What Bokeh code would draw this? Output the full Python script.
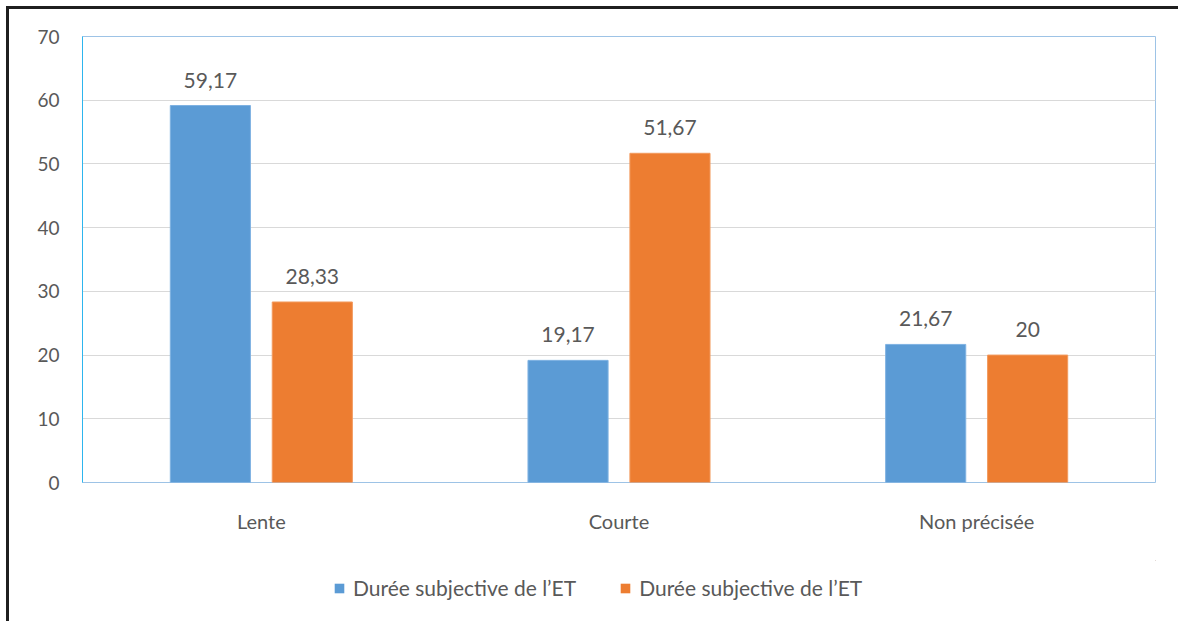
from bokeh.plotting import figure
from bokeh.layouts import column
from bokeh.models import (ColumnDataSource, FactorRange, Legend, LegendItem,
                          FixedTicker, LabelSet)
from bokeh.core.properties import value
from bokeh.transform import dodge
from bokeh.embed import file_html
from bokeh.resources import INLINE

# Data
categories = ["Lente", "Courte", "Non précisée"]
serie_1 = [59.17, 19.17, 21.67]
serie_2 = [28.33, 51.67, 20.0]
serie_names = ["Durée subjective de l’ET", "Durée subjective de l’ET"]
y_ticks = [0, 10, 20, 30, 40, 50, 60, 70]

BLUE = "#5B9BD5"
ORANGE = "#ED7D31"
TEXT = "#595959"
FONT = "Lato"


def fmt(v):
    s = f"{v:.2f}".rstrip("0").rstrip(".")
    return s.replace(".", ",")


src = ColumnDataSource(dict(
    cat=categories,
    s1=serie_1,
    s2=serie_2,
    l1=[fmt(v) for v in serie_1],
    l2=[fmt(v) for v in serie_2],
))

# ---- main bar chart ----
p = figure(
    x_range=FactorRange(*categories, range_padding=0),
    y_range=(0, 70),
    width=1169, height=551,
    output_backend="svg", toolbar_location=None,
    min_border_left=73, min_border_right=23,
    min_border_top=27, min_border_bottom=78,
)

offset = 0.1425
bar_w = 0.224
p.vbar(x=dodge("cat", -offset, range=p.x_range), top="s1", width=bar_w,
       source=src, fill_color=BLUE, line_color="#7FB2E2", line_width=1)
p.vbar(x=dodge("cat", offset, range=p.x_range), top="s2", width=bar_w,
       source=src, fill_color=ORANGE, line_color="#F29A5E", line_width=1)

lab_style = dict(text_font=value(FONT), text_font_size="21px", text_color=TEXT,
                 text_align="center", text_baseline="alphabetic", y_offset=18,
                 source=src)
p.add_layout(LabelSet(x=dodge("cat", -offset, range=p.x_range), y="s1",
                      text="l1", **lab_style))
p.add_layout(LabelSet(x=dodge("cat", offset, range=p.x_range), y="s2",
                      text="l2", **lab_style))

# Frame and grid
p.outline_line_color = "#9DC3E6"
p.outline_line_width = 1
p.outline_line_alpha = 1
p.xgrid.grid_line_color = None
p.ygrid.grid_line_color = "#D9D9D9"
p.ygrid.grid_line_width = 1
p.background_fill_color = "white"
p.border_fill_color = "white"

# Axes
p.yaxis.ticker = FixedTicker(ticks=y_ticks)
p.yaxis.axis_line_color = "#2DB5EE"
p.yaxis.major_tick_line_color = None
p.yaxis.minor_tick_line_color = None
p.yaxis.major_tick_out = 0
p.yaxis.major_tick_in = 0
p.yaxis.major_label_standoff = 23
p.yaxis.major_label_text_font = FONT
p.yaxis.major_label_text_font_size = "19px"
p.yaxis.major_label_text_color = TEXT

p.xaxis.axis_line_color = None
p.xaxis.major_tick_line_color = None
p.xaxis.minor_tick_line_color = None
p.xaxis.major_tick_out = 0
p.xaxis.major_tick_in = 0
p.xaxis.major_label_standoff = 26
p.xaxis.major_label_text_font = FONT
p.xaxis.major_label_text_font_size = "20px"
p.xaxis.major_label_text_color = TEXT

# ---- legend strip under the chart ----
# The series are drawn again here, well outside the visible ranges, only so
# the legend has glyph renderers to take its swatches from.
leg = figure(
    x_range=(0, 1), y_range=(-1000, -999),
    width=1169, height=61,
    output_backend="svg", toolbar_location=None,
    min_border_left=0, min_border_right=0,
    min_border_top=0, min_border_bottom=0,
)
leg.axis.visible = False
leg.grid.grid_line_color = None
leg.outline_line_color = None
leg.border_fill_color = "white"

k1 = leg.vbar(x=50, top="s1", width=0.1, source=src,
              fill_color=BLUE, line_color=None)
k2 = leg.vbar(x=50, top="s2", width=0.1, source=src,
              fill_color=ORANGE, line_color=None)

legend = Legend(
    items=[LegendItem(label=serie_names[0], renderers=[k1]),
           LegendItem(label=serie_names[1], renderers=[k2])],
    orientation="horizontal",
    location=(251, 21),
    glyph_width=12, glyph_height=12,
    label_standoff=8, spacing=43, padding=0, margin=0,
    label_text_font=FONT, label_text_font_size="21px", label_text_color=TEXT,
    border_line_color=None, background_fill_alpha=0,
)
leg.add_layout(legend, "center")

page = column(p, leg, spacing=0, styles={
    "border-left": "3px solid #1f1f1f",
    "border-top": "3px solid #1f1f1f",
    "margin-left": "6px",
    "margin-top": "6px",
})

open("out.html", "w").write(file_html(page, INLINE))
